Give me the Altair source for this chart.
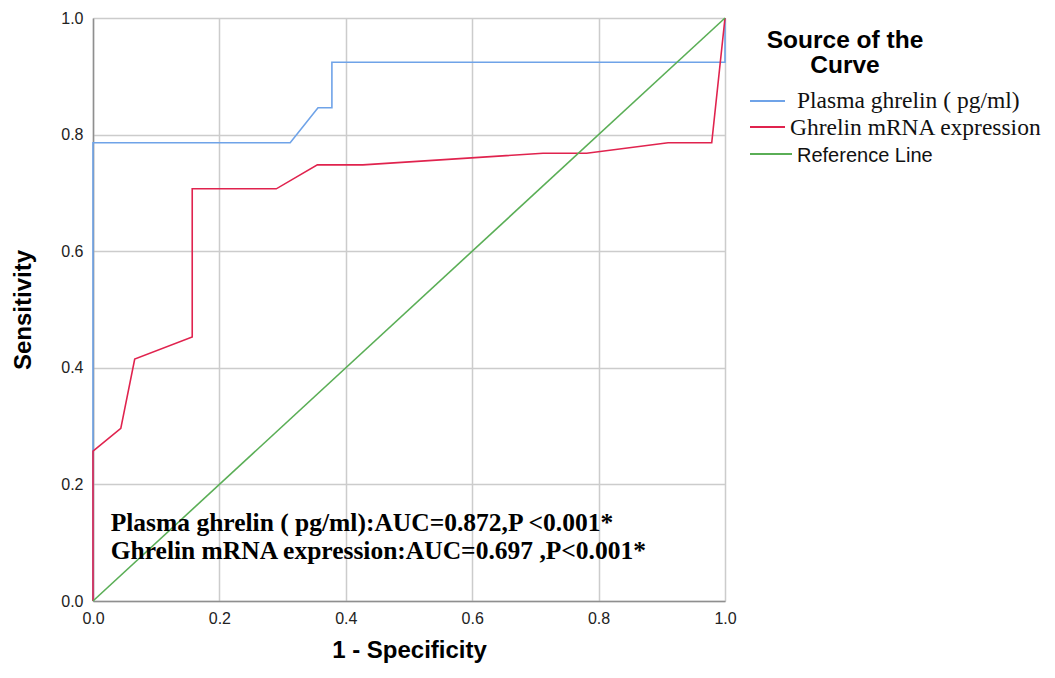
import altair as alt
import pandas as pd

# ---- data ----
fpr_plasma = [0.0, 0.0, 0.312, 0.356, 0.378, 0.378, 1.0, 1.0]
tpr_plasma = [0.0, 0.786, 0.786, 0.846, 0.846, 0.924, 0.924, 1.0]

fpr_mrna = [0.0, 0.0, 0.044, 0.066, 0.157, 0.157, 0.290, 0.355, 0.427, 0.712, 0.781, 0.910, 0.979, 1.0]
tpr_mrna = [0.0, 0.257, 0.296, 0.415, 0.453, 0.707, 0.707, 0.748, 0.748, 0.768, 0.768, 0.786, 0.786, 1.0]

ref_x = [0.0, 1.0]
ref_y = [0.0, 1.0]

series_names = ["Plasma ghrelin ( pg/ml)", "Ghrelin mRNA expression", "Reference Line"]
series_colors = ["#6fa3e8", "#e0234e", "#5aae56"]

tick_values = [0.0, 0.2, 0.4, 0.6, 0.8, 1.0]

ann_text = ["Plasma ghrelin ( pg/ml):AUC=0.872,P <0.001*",
            "Ghrelin mRNA expression:AUC=0.697 ,P<0.001*"]
ann_x = [0.028, 0.028]
ann_y = [0.120, 0.072]

legend_title = ["Source of the", "Curve"]

# ---- build table ----
rows = []
for xs, ys, name in [(fpr_plasma, tpr_plasma, series_names[0]),
                     (fpr_mrna, tpr_mrna, series_names[1]),
                     (ref_x, ref_y, series_names[2])]:
    for i, (a, b) in enumerate(zip(xs, ys)):
        rows.append({"x": a, "y": b, "series": name, "order": i})
df = pd.DataFrame(rows)

xscale = alt.Scale(domain=[0, 1], nice=False, zero=False)
yscale = alt.Scale(domain=[0, 1], nice=False, zero=False)
color = alt.Color("series:N", scale=alt.Scale(domain=series_names, range=series_colors), legend=None)

base = alt.Chart(df).encode(
    x=alt.X("x:Q", scale=xscale,
            axis=alt.Axis(values=tick_values, format=".1f", title="1 - Specificity",
                          ticks=False, labelFlush=False, labelPadding=9, titlePadding=12)),
    y=alt.Y("y:Q", scale=yscale,
            axis=alt.Axis(values=tick_values, format=".1f", title="Sensitivity",
                          ticks=False, labelFlush=False, labelPadding=10, titlePadding=25)),
    color=color,
    order="order:Q",
)

lines = []
for name in [series_names[0], series_names[1], series_names[2]]:
    lines.append(base.transform_filter(alt.datum.series == name).mark_line(strokeWidth=1.6))

ann_df = pd.DataFrame({"x": ann_x, "y": ann_y, "t": ann_text})
ann = alt.Chart(ann_df).mark_text(
    align="left", baseline="alphabetic", font="Liberation Serif",
    fontWeight="bold", fontSize=25.5, color="#000000"
).encode(x=alt.X("x:Q", scale=xscale), y=alt.Y("y:Q", scale=yscale), text="t:N")

# ---- manual legend (pixel layout relative to plot origin) ----
one = pd.DataFrame({"k": [0]})
leg_layers = []
leg_layers.append(alt.Chart(one).mark_text(
    text=legend_title[0], align="center", baseline="alphabetic", font="Liberation Sans",
    fontWeight="bold", fontSize=24.5, color="#000000").encode(x=alt.value(752), y=alt.value(30)))
leg_layers.append(alt.Chart(one).mark_text(
    text=legend_title[1], align="center", baseline="alphabetic", font="Liberation Sans",
    fontWeight="bold", fontSize=24.5, color="#000000").encode(x=alt.value(752), y=alt.value(55)))

sw_x1 = [657, 657, 657]
sw_x2 = [692, 692, 699]
sw_y = [83, 109, 136]
lab_x = [704, 697, 704]
lab_y = [90, 117, 144]
lab_font = ["Liberation Serif", "Liberation Serif", "Liberation Sans"]
lab_size = [23.5, 23.5, 20]
for i in range(3):
    leg_layers.append(alt.Chart(one).mark_rule(color=series_colors[i], strokeWidth=2).encode(
        x=alt.value(sw_x1[i]), x2=alt.value(sw_x2[i]), y=alt.value(sw_y[i])))
    leg_layers.append(alt.Chart(one).mark_text(
        text=series_names[i], align="left", baseline="alphabetic", font=lab_font[i],
        fontSize=lab_size[i], color="#111111").encode(x=alt.value(lab_x[i]), y=alt.value(lab_y[i])))

chart = alt.layer(*lines, ann, *leg_layers).properties(
    width=632, height=583,
    autosize=alt.AutoSizeParams(type="none"),
    padding={"left": 85, "top": 10, "right": 322, "bottom": 64},
).configure_view(stroke=None).configure_axis(
    grid=True, gridColor="#cccccc", gridWidth=1.5,
    domainColor="#8f8f8f", domainWidth=1.5,
    labelFont="Liberation Sans", labelFontSize=16, labelColor="#222222",
    titleFont="Liberation Sans", titleFontSize=24, titleFontWeight="bold", titleColor="#000000",
)

chart.save("out.html", embed_options={"renderer": "svg", "actions": False})
